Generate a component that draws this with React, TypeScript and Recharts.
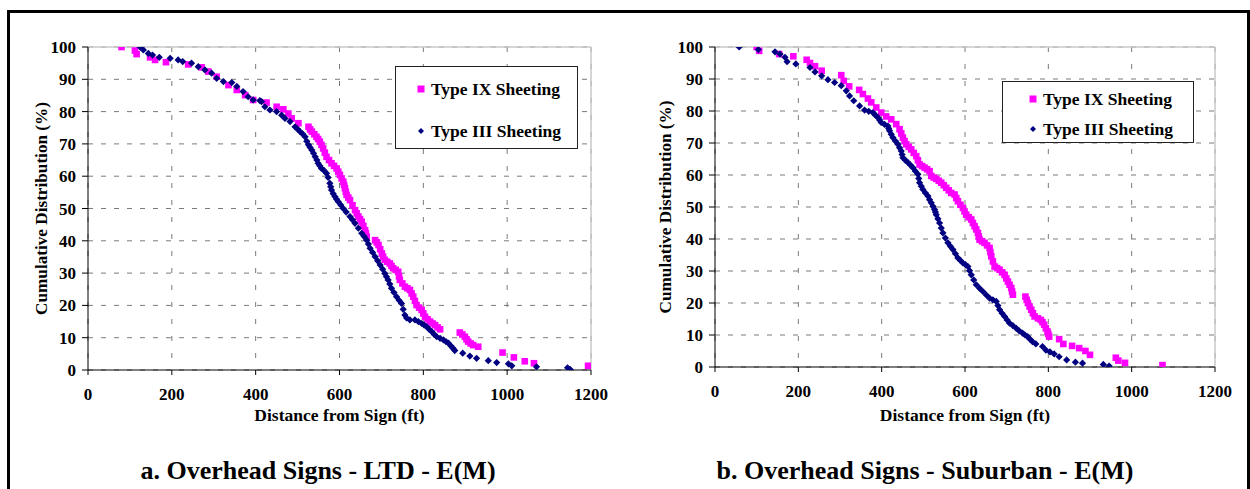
import React from 'react';
import {
  ScatterChart, Scatter, XAxis, YAxis, CartesianGrid, Legend, ReferenceLine, Label,
} from 'recharts';

// ---------- data: [distance (ft), cumulative distribution (%)] ----------
const ltdTypeIX: [number, number][] = [
  [80, 100], [112, 98.9], [116, 97.8], [148, 96.8], [160, 96.0], [186, 95.3], [239, 94.6],
  [271, 93.7], [287, 92.4], [307, 90.8], [335, 88.2], [355, 86.7], [375, 85.1], [394, 83.6],
  [426, 82.8], [450, 81.5], [466, 80.7], [478, 79.4], [486, 77.9], [502, 76.4], [526, 75.3],
  [530, 74.5], [534, 73.8], [540, 73.0], [545, 72.2], [549, 71.5], [553, 70.7], [557, 69.7],
  [561, 68.6], [565, 67.3], [569, 66.0], [575, 65.0], [581, 64.0], [587, 63.2], [593, 62.4],
  [597, 61.4], [601, 60.4], [605, 59.3], [609, 58.3], [611, 57.3], [613, 56.3], [615, 55.2],
  [617, 54.2], [621, 53.4], [625, 52.6], [631, 51.0], [637, 49.5], [641, 48.5], [645, 47.5],
  [649, 46.7], [653, 45.9], [657, 44.6], [661, 43.3], [663, 42.3], [665, 41.3], [685, 40.2],
  [689, 39.5], [693, 38.7], [697, 37.4], [701, 36.1], [704, 35.1], [708, 34.1], [714, 33.5],
  [720, 33.0], [724, 32.2], [728, 31.5], [734, 31.0], [740, 30.4], [742, 29.0], [744, 27.9],
  [750, 26.8], [756, 25.8], [762, 25.3], [768, 24.8], [772, 23.7], [776, 22.7], [780, 21.4],
  [784, 20.1], [790, 19.3], [796, 18.6], [800, 17.5], [804, 16.5], [810, 15.7], [816, 15.0],
  [822, 14.4], [828, 13.9], [834, 13.2], [840, 12.6], [887, 11.6], [893, 11.0], [899, 10.3],
  [903, 9.5], [907, 8.8], [913, 8.2], [919, 7.7], [931, 7.2], [989, 5.4], [1016, 3.9],
  [1042, 2.7], [1064, 2.1], [1193, 1.3],
];
const ltdTypeIII: [number, number][] = [
  [124, 100], [132, 99.1], [144, 98.0], [154, 97.5], [170, 96.8], [196, 96.5], [215, 96.0],
  [226, 95.5], [247, 95.0], [263, 93.9], [279, 92.9], [295, 91.9], [307, 90.3], [323, 89.3],
  [343, 89.0], [355, 87.8], [370, 86.2], [382, 84.6], [394, 83.6], [410, 83.4], [414, 83.1],
  [422, 81.5], [434, 80.5], [450, 80.0], [462, 78.9], [470, 77.9], [482, 76.9], [494, 75.3],
  [500, 74.6], [506, 73.8], [512, 73.1], [518, 72.2], [522, 70.8], [526, 69.7], [530, 68.9],
  [534, 68.1], [538, 67.1], [542, 66.0], [546, 65.0], [549, 64.0], [553, 63.2], [557, 62.4],
  [563, 61.8], [569, 60.9], [573, 59.6], [577, 57.8], [579, 56.7], [581, 55.7], [585, 54.6],
  [589, 53.7], [593, 52.9], [597, 52.1], [603, 51.1], [609, 50.0], [616, 48.9], [625, 47.5],
  [631, 46.5], [637, 45.4], [645, 43.9], [653, 42.3], [659, 41.3], [665, 40.2], [669, 39.0],
  [673, 37.7], [679, 36.4], [685, 35.1], [691, 33.8], [697, 32.5], [703, 31.2], [708, 29.9],
  [712, 28.9], [716, 27.9], [720, 26.6], [724, 25.3], [730, 24.0], [736, 22.7], [742, 21.6],
  [748, 20.6], [752, 18.8], [756, 17.0], [760, 16.1], [768, 15.5], [780, 15.5], [788, 15.0],
  [796, 14.4], [802, 13.9], [808, 13.4], [814, 12.6], [820, 11.9], [826, 11.0], [832, 10.3],
  [840, 9.8], [848, 9.3], [854, 8.8], [860, 8.3], [866, 7.4], [871, 6.7], [875, 6.0],
  [894, 5.2], [911, 4.3], [927, 3.6], [955, 2.9], [975, 2.3], [1003, 1.9], [1011, 1.3],
  [1070, 1.0], [1144, 0.7], [1150, 0.2],
];
const subTypeIX: [number, number][] = [
  [100, 100], [106, 98.8], [154, 97.8], [188, 97.1], [220, 96.0], [228, 95.0], [240, 94.0],
  [256, 92.6], [303, 91.2], [309, 89.4], [322, 87.7], [346, 86.6], [355, 85.3], [367, 83.9],
  [375, 82.7], [387, 81.1], [399, 79.5], [411, 78.3], [423, 77.4], [435, 75.9], [443, 74.3],
  [447, 73.0], [451, 71.7], [455, 70.6], [459, 69.6], [465, 68.8], [471, 68.0], [477, 66.9],
  [483, 65.9], [487, 64.6], [491, 63.3], [497, 62.8], [503, 62.3], [509, 61.8], [515, 61.2],
  [519, 59.7], [525, 59.2], [531, 58.8], [537, 58.2], [543, 57.6], [549, 56.8], [555, 56.0],
  [561, 55.2], [567, 54.4], [575, 53.9], [579, 52.8], [583, 51.8], [589, 50.7], [595, 49.7],
  [599, 48.6], [603, 47.6], [609, 46.8], [615, 46.1], [619, 45.0], [623, 44.0], [627, 43.0],
  [631, 41.9], [633, 40.8], [635, 39.8], [641, 39.3], [647, 38.8], [653, 38.0], [659, 37.2],
  [661, 35.9], [663, 34.6], [667, 33.0], [671, 31.4], [677, 30.9], [683, 30.4], [689, 29.6],
  [695, 28.8], [699, 27.7], [703, 26.7], [707, 25.7], [711, 24.7], [713, 23.6], [715, 22.6],
  [745, 22.0], [748, 21.0], [751, 20.0], [755, 18.9], [759, 17.9], [763, 16.8], [767, 15.8],
  [775, 15.2], [782, 14.7], [786, 14.0], [790, 13.2], [794, 12.1], [798, 11.1], [800, 10.3],
  [802, 9.5], [826, 8.7], [836, 7.2], [857, 6.6], [874, 5.9], [889, 5.0], [900, 3.8],
  [962, 2.9], [968, 2.0], [984, 1.3], [1074, 0.6],
];
const subTypeIII: [number, number][] = [
  [58, 100], [104, 99.2], [144, 98.5], [156, 97.8], [168, 96.8], [173, 95.4], [194, 94.7],
  [228, 93.6], [240, 92.2], [256, 91.0], [271, 89.8], [287, 88.9], [303, 87.9], [315, 86.3],
  [323, 84.7], [333, 83.2], [347, 81.6], [359, 80.3], [369, 79.9], [379, 79.5], [385, 78.7],
  [391, 78.0], [395, 77.2], [399, 76.4], [407, 75.8], [415, 75.3], [417, 74.5], [419, 73.8],
  [423, 72.7], [427, 71.7], [433, 70.6], [439, 69.6], [443, 68.5], [447, 67.5], [449, 66.4],
  [451, 65.4], [457, 64.6], [463, 63.9], [469, 63.1], [475, 62.3], [481, 61.2], [487, 60.2],
  [489, 58.9], [491, 57.6], [495, 56.5], [499, 55.5], [505, 54.4], [511, 53.4], [515, 52.3],
  [519, 51.3], [523, 50.2], [527, 49.2], [529, 48.4], [531, 47.6], [535, 46.3], [539, 45.0],
  [543, 43.4], [547, 41.9], [553, 40.3], [559, 38.8], [565, 37.7], [571, 36.7], [577, 35.4],
  [583, 34.1], [589, 33.3], [595, 32.5], [601, 32.0], [607, 31.4], [611, 30.1], [615, 28.8],
  [621, 27.2], [627, 25.7], [635, 24.6], [643, 23.6], [651, 22.5], [659, 21.5], [667, 21.0],
  [675, 20.5], [679, 19.2], [683, 17.9], [689, 16.8], [695, 15.8], [701, 14.7], [707, 13.7],
  [715, 12.9], [723, 12.1], [730, 11.3], [738, 10.6], [744, 10.0], [750, 9.5], [756, 8.7],
  [762, 7.9], [770, 7.2], [786, 6.4], [794, 5.3], [804, 4.7], [814, 4.1], [826, 3.2],
  [844, 2.2], [865, 1.5], [882, 1.2], [932, 0.8], [946, 0.3],
];

const xTicks = [0, 200, 400, 600, 800, 1000, 1200];
const yTicks = [0, 10, 20, 30, 40, 50, 60, 70, 80, 90, 100];
const seriesNames = ['Type IX Sheeting', 'Type III Sheeting'];
const titles = ['a. Overhead Signs - LTD - E(M)', 'b. Overhead Signs - Suburban - E(M)'];
const xTitle = 'Distance from Sign (ft)';
const yTitle = 'Cumulative Distribution (%)';

const MAGENTA = '#FF00FF';
const NAVY = '#000080';
const FONT = '"Liberation Serif", "Times New Roman", serif';

const toPts = (a: [number, number][]) => a.map(([x, y]) => ({ x, y }));

const SquareShape = (p: any) => (
  <rect x={p.cx - 3.3} y={p.cy - 3.3} width={6.6} height={6.6} fill={MAGENTA} />
);
const DiamondShape = (p: any) => (
  <path d={`M${p.cx},${p.cy - 3.6}L${p.cx + 3.6},${p.cy}L${p.cx},${p.cy + 3.6}L${p.cx - 3.6},${p.cy}Z`} fill={NAVY} />
);

type LegendSpec = {
  left: number; top: number; width: number; height: number;
  rows: number[]; markerX: number; textX: number;
};

const LegendBox = ({ spec }: { spec: LegendSpec }) => (
  <div style={{
    position: 'relative', border: '1.5px solid #222', background: '#fff', boxSizing: 'border-box',
    fontFamily: FONT, fontWeight: 'bold', fontSize: 17.5, color: '#000',
    width: spec.width, height: spec.height,
  }}>
    {seriesNames.map((n, i) => (
      <React.Fragment key={n}>
        <svg width={10} height={10} style={{ position: 'absolute', left: spec.markerX - 5, top: spec.rows[i] - 5 }}>
          {i === 0
            ? <rect x={1.5} y={1.5} width={7} height={7} fill={MAGENTA} />
            : <path d="M5,2L8,5L5,8L2,5Z" fill={NAVY} />}
        </svg>
        <div style={{
          position: 'absolute', left: spec.textX, top: spec.rows[i] - 11, height: 22,
          lineHeight: '22px', whiteSpace: 'nowrap',
        }}>{n}</div>
      </React.Fragment>
    ))}
  </div>
);

type PanelProps = {
  left: number; width: number; yw: number; mr: number; mb: number; titleOffset: number; yDx: number;
  ix: [number, number][]; iii: [number, number][]; legend: LegendSpec;
};

const tickStyle = { fontFamily: FONT, fontWeight: 'bold' as const, fontSize: 17, fill: '#000' };

const Panel = ({ left, width, yw, mr, mb, titleOffset, yDx, ix, iii, legend }: PanelProps) => (
  <div style={{ position: 'absolute', left, top: 0 }}>
    <ScatterChart width={width} height={489} margin={{ top: 47, left: 0, right: mr, bottom: mb }}>
      <CartesianGrid stroke="#7a7a7a" strokeDasharray="5 8" vertical={false} />
      <CartesianGrid stroke="#7a7a7a" strokeDasharray="5 12" horizontal={false} />
      <ReferenceLine y={100} stroke="#c8c8c8" strokeWidth={1.5} ifOverflow="visible" />
      <ReferenceLine x={1200} stroke="#c8c8c8" strokeWidth={1.5} ifOverflow="visible" />
      <XAxis type="number" dataKey="x" domain={[0, 1200]} ticks={xTicks} interval={0}
        stroke="#000" tickLine={{ stroke: '#000' }} tickSize={5} tickMargin={13}
        tick={tickStyle} height={30} allowDataOverflow>
        <Label value={xTitle} position="bottom" offset={titleOffset}
          style={{ fontFamily: FONT, fontWeight: 'bold', fontSize: 17.5, fill: '#000' }} />
      </XAxis>
      <YAxis type="number" dataKey="y" domain={[0, 100]} ticks={yTicks} interval={0}
        stroke="#000" tickLine={{ stroke: '#000' }} tickSize={6} tickMargin={6}
        tick={tickStyle} width={yw} allowDataOverflow>
        <Label value={yTitle} angle={-90} position="center" dx={yDx}
          style={{ fontFamily: FONT, fontWeight: 'bold', fontSize: 17.2, fill: '#000', textAnchor: 'middle' }} />
      </YAxis>
      <Legend layout="vertical" align="center" verticalAlign="middle"
        content={() => <LegendBox spec={legend} />}
        wrapperStyle={{ position: 'absolute', left: legend.left, top: legend.top, width: legend.width, height: legend.height, bottom: 'auto', right: 'auto' }} />
      <Scatter name={seriesNames[0]} data={toPts(ix)} shape={SquareShape} isAnimationActive={false} />
      <Scatter name={seriesNames[1]} data={toPts(iii)} shape={DiamondShape} isAnimationActive={false} />
    </ScatterChart>
  </div>
);

const titleStyle = (cx: number): React.CSSProperties => ({
  position: 'absolute', left: cx - 300, width: 600, top: 455, height: 32, lineHeight: '32px',
  textAlign: 'center', fontFamily: FONT, fontWeight: 'bold', fontSize: 26, color: '#000', whiteSpace: 'nowrap',
});

export default function App() {
  return (
    <div style={{ position: 'absolute', left: 0, top: 0, width: 1250, height: 489, overflow: 'hidden', background: '#fff' }}>
      <div style={{ position: 'absolute', left: 7, top: 10, width: 1243, height: 520, border: '3px solid #000', boxSizing: 'border-box' }} />
      <Panel left={0} width={620} yw={88} mr={29} mb={89} titleOffset={9} yDx={-3}
        ix={ltdTypeIX} iii={ltdTypeIII}
        legend={{ left: 395, top: 66, width: 183, height: 83, rows: [22, 64], markerX: 25, textX: 35 }} />
      <Panel left={620} width={630} yw={95} mr={35} mb={92} titleOffset={12} yDx={-2.5}
        ix={subTypeIX} iii={subTypeIII}
        legend={{ left: 382, top: 81, width: 192, height: 62, rows: [17, 47], markerX: 30, textX: 40 }} />
      <div style={titleStyle(318)}>{titles[0]}</div>
      <div style={titleStyle(925)}>{titles[1]}</div>
    </div>
  );
}
